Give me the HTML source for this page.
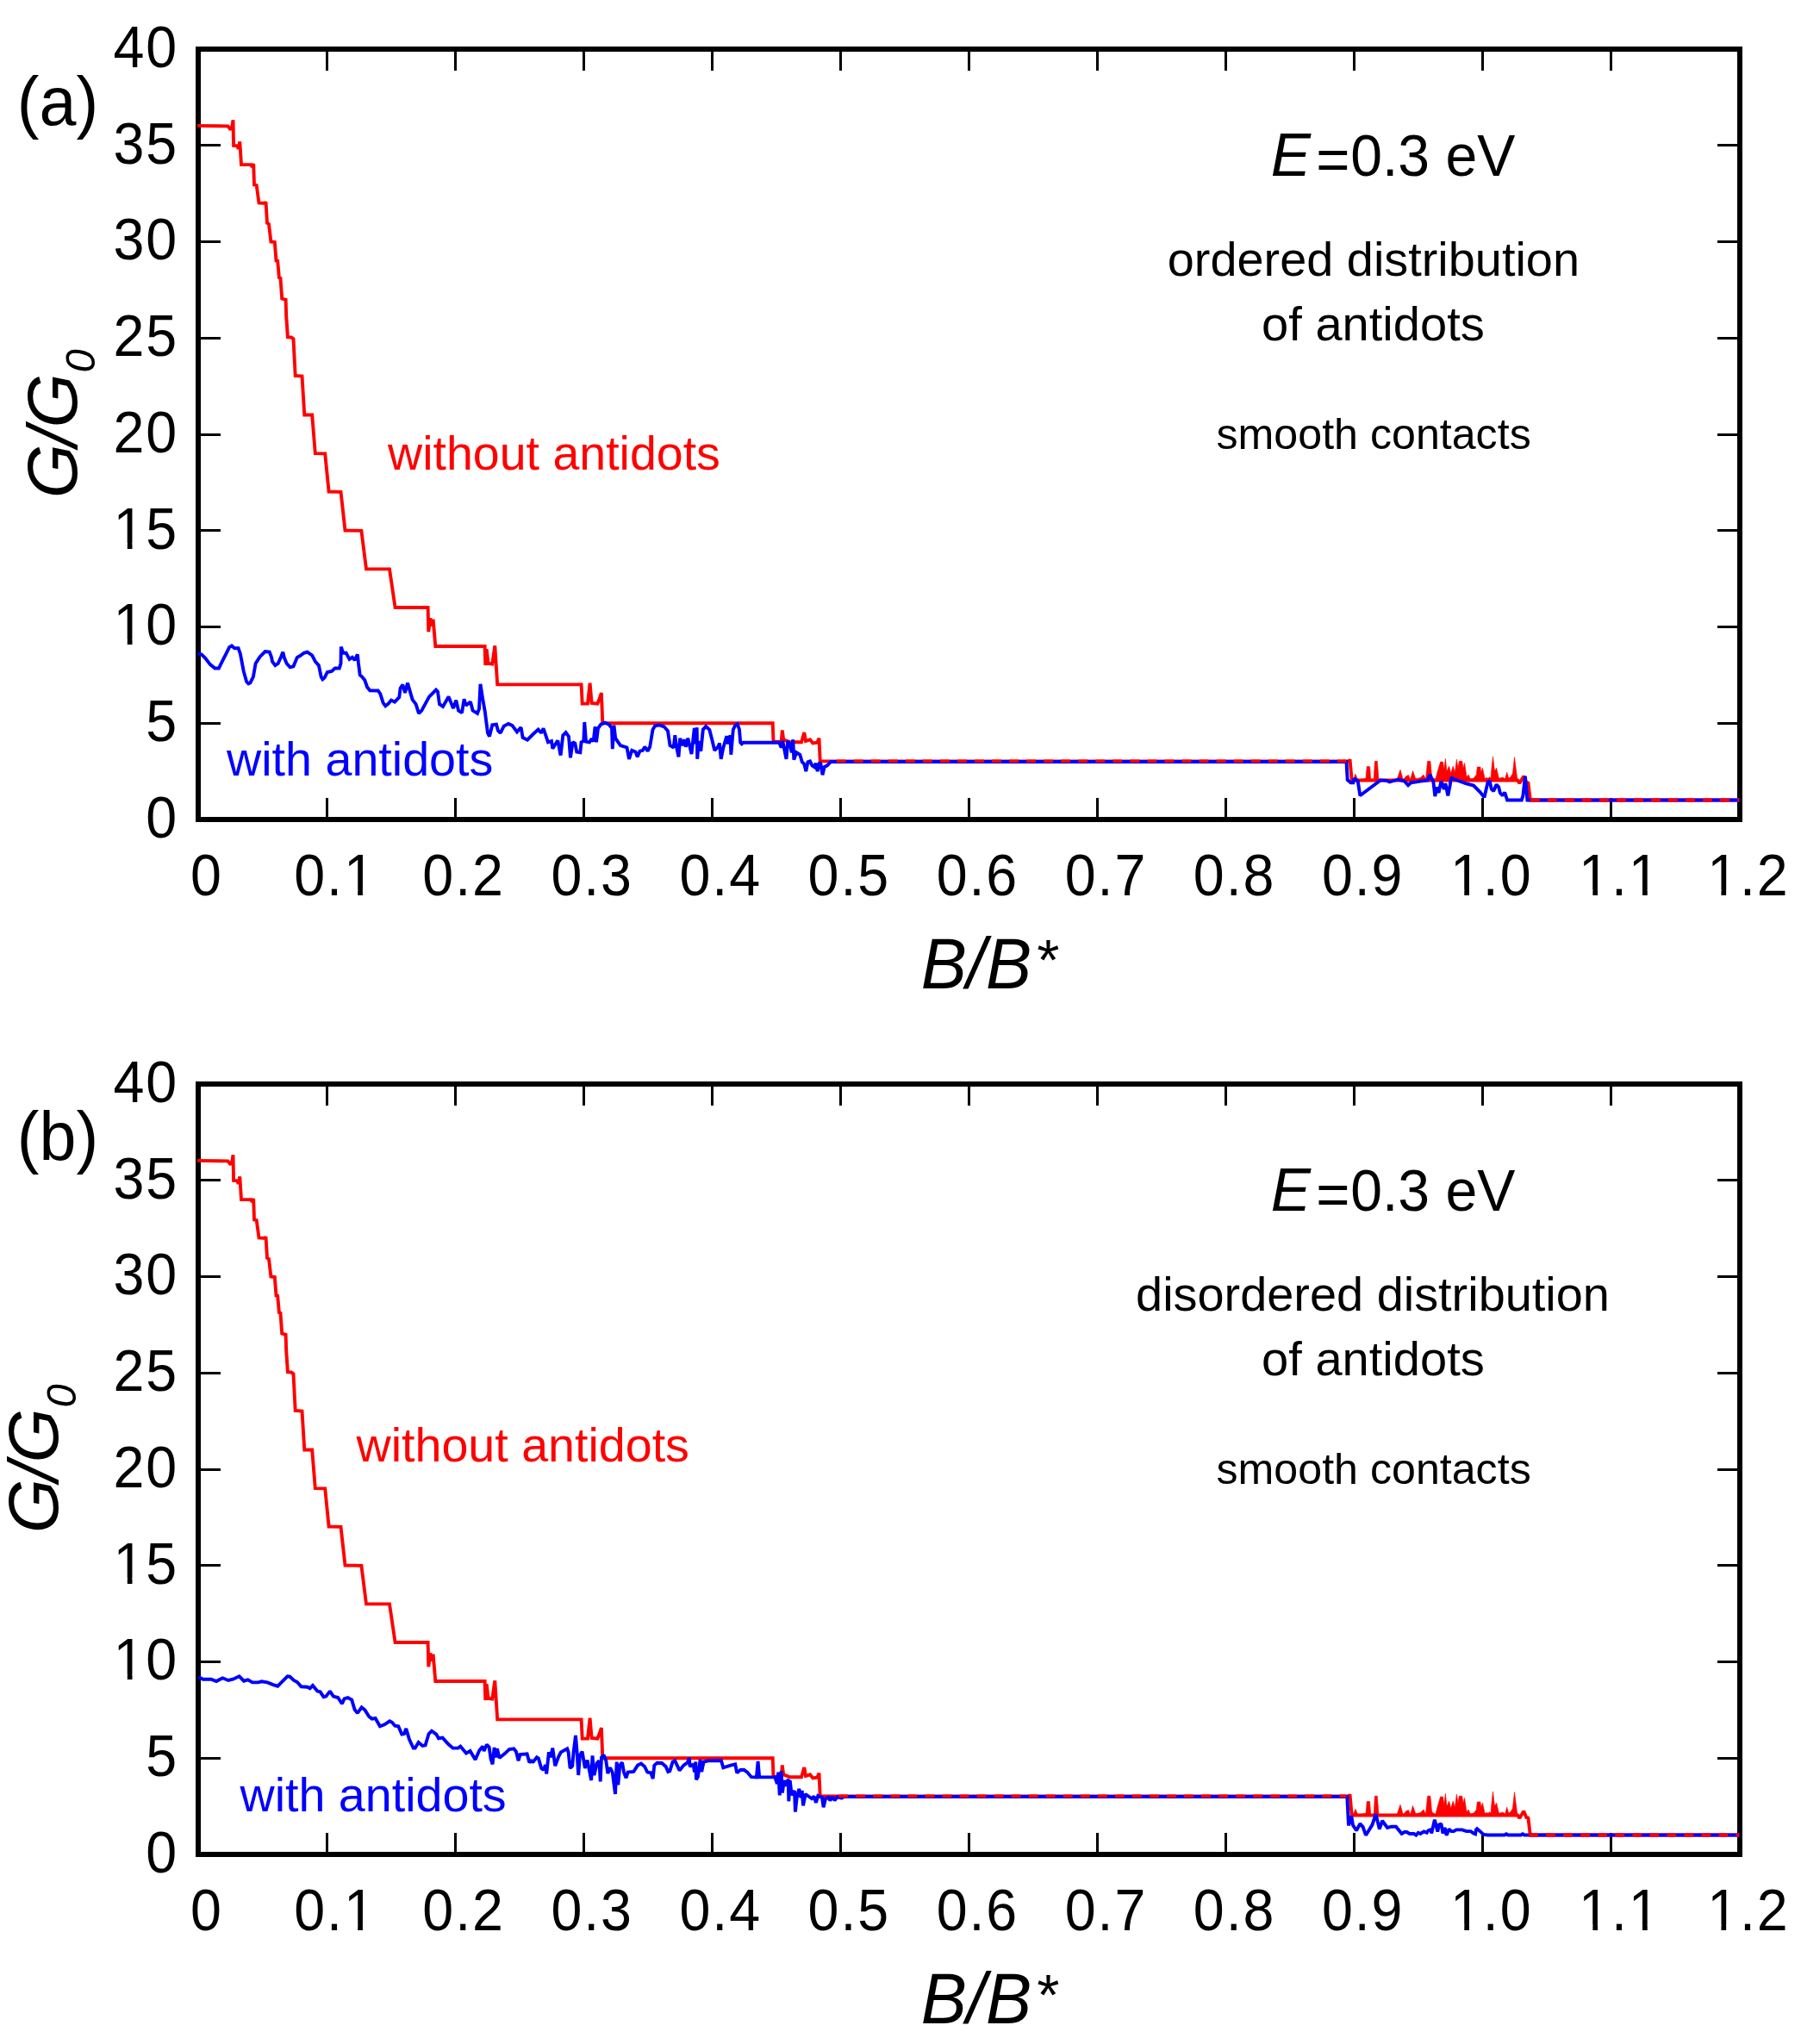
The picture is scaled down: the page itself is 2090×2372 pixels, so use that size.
<!DOCTYPE html>
<html><head><meta charset="utf-8"><title>G/G0 vs B/B*</title>
<style>
html,body{margin:0;padding:0;background:#fff;}
svg{display:block;}
text{font-family:'Liberation Sans', Arial, Helvetica, sans-serif;}
</style></head><body>
<svg width="2090" height="2372" viewBox="0 0 2090 2372">
<rect width="2090" height="2372" fill="#fff"/>
<g id="panel-a">
<path d="M379.1 57.0v25.0M379.1 951.0v-25.0M528.2 57.0v25.0M528.2 951.0v-25.0M677.2 57.0v25.0M677.2 951.0v-25.0M826.3 57.0v25.0M826.3 951.0v-25.0M975.4 57.0v25.0M975.4 951.0v-25.0M1124.5 57.0v25.0M1124.5 951.0v-25.0M1273.6 57.0v25.0M1273.6 951.0v-25.0M1422.7 57.0v25.0M1422.7 951.0v-25.0M1571.8 57.0v25.0M1571.8 951.0v-25.0M1720.8 57.0v25.0M1720.8 951.0v-25.0M1869.9 57.0v25.0M1869.9 951.0v-25.0M230.0 839.2h25.5M2019.0 839.2h-26.0M230.0 727.5h25.5M2019.0 727.5h-26.0M230.0 615.8h25.5M2019.0 615.8h-26.0M230.0 504.0h25.5M2019.0 504.0h-26.0M230.0 392.2h25.5M2019.0 392.2h-26.0M230.0 280.5h25.5M2019.0 280.5h-26.0M230.0 168.8h25.5M2019.0 168.8h-26.0" fill="none" stroke="#000" stroke-width="3.0" shape-rendering="crispEdges"/>
<rect x="230.0" y="57.0" width="1789.0" height="894.0" fill="none" stroke="#000" stroke-width="6.0" shape-rendering="crispEdges"/>
<polygon points="1568.7,907.1 1571.6,902.0 1572.9,898.3 1575.8,905.0 1585.0,903.3 1586.2,889.6 1589.6,889.6 1590.8,905.0 1594.2,905.0 1595.4,883.3 1598.3,883.3 1600.0,905.0 1620.8,905.4 1625.0,893.3 1628.3,905.0 1631.6,900.8 1634.5,899.5 1636.6,905.0 1639.5,894.6 1642.9,904.1 1648.3,902.5 1652.0,899.1 1654.5,904.1 1656.6,883.3 1659.9,883.3 1661.6,901.6 1665.8,905.0 1668.3,895.0 1671.6,884.1 1674.5,884.1 1675.8,893.0 1677.4,880.4 1679.0,895.0 1681.6,889.1 1683.7,897.5 1686.2,889.1 1688.3,896.5 1690.4,881.2 1692.0,891.6 1693.3,883.3 1696.7,883.3 1698.0,891.6 1699.6,885.4 1702.0,901.6 1704.2,899.1 1706.2,904.1 1710.0,903.3 1713.3,899.1 1714.3,890.0 1717.9,890.0 1718.7,896.6 1720.4,891.2 1723.3,904.1 1725.4,902.0 1726.6,904.1 1728.3,901.6 1730.0,903.3 1730.8,893.3 1732.5,877.9 1734.5,895.0 1736.6,891.2 1739.5,903.3 1744.1,902.0 1746.6,904.1 1748.7,896.2 1750.8,903.3 1753.3,901.2 1755.4,897.5 1757.5,878.7 1760.0,898.3 1761.2,907.1" fill="#ff0000" stroke="#ff0000" stroke-width="0.6" stroke-linejoin="miter"/>
<polyline points="229.1,145.9 264.4,146.4 267.8,150.5 269.5,146.0 270.5,139.4 271.1,168.9 275.5,169.4 276.6,172.8 278.3,164.4 280.0,191.1 291.1,191.1 292.7,193.9 294.2,190.0 295.0,214.4 297.7,215.0 300.5,235.5 307.7,236.0 308.5,234.0 310.0,258.9 312.0,260.0 314.4,280.5 318.8,281.0 320.5,302.5 322.2,302.8 323.9,322.2 325.5,322.8 327.2,346.6 331.6,347.8 332.2,366.6 333.9,391.1 338.0,391.5 340.5,393.3 342.7,436.0 350.5,436.6 353.3,481.5 362.2,481.5 365.8,526.1 377.2,526.4 381.6,570.5 395.5,570.8 400.5,615.5 419.4,615.8 425.0,660.4 452.0,660.4 458.6,705.0 496.6,705.0 497.3,733.3 499.3,717.3 500.6,726.6 502.6,718.6 505.3,750.0 562.6,750.0 563.3,772.0 564.6,753.3 566.6,770.0 571.3,770.6 574.3,749.3 577.2,794.4 674.6,794.4 675.7,816.6 682.0,816.6 684.6,792.6 686.6,816.0 693.3,816.6 696.0,810.0 697.9,804.0 699.3,839.3 896.7,839.2 897.5,860.8 906.7,860.8 907.8,847.5 909.2,858.3 916.7,861.3 930.0,861.3 933.3,850.0 935.0,860.0 940.0,858.3 943.3,862.5 948.3,861.7 950.5,856.7 951.7,883.4 1565.8,883.4 1566.5,881.2 1568.7,905.4 1761.2,905.4 1763.3,909.1 1768.3,900.8 1771.6,909.1 1773.3,907.5 1775.8,928.5 2019.0,928.5" fill="none" stroke="#ff0000" stroke-width="3.9" stroke-linejoin="miter" stroke-miterlimit="1.6"/>
<polyline points="229.4,758.3 233.9,759.4 238.3,763.9 243.9,771.1 249.4,775.5 253.9,775.5 258.3,766.6 262.8,757.8 266.1,751.1 268.9,749.4 272.2,752.2 276.6,752.2 278.9,758.9 282.7,778.9 286.1,791.1 288.3,793.3 290.5,792.2 293.9,785.5 296.6,770.0 301.6,762.2 307.7,756.1 312.7,756.6 314.9,762.2 316.1,767.8 319.4,772.2 322.7,770.0 326.1,762.2 328.3,756.6 329.9,763.3 332.7,770.0 336.6,774.4 340.5,773.3 344.9,762.8 348.3,761.1 352.7,757.8 356.6,756.6 362.2,760.5 366.0,767.8 369.9,772.2 372.7,785.5 374.4,788.3 376.6,786.6 379.9,780.0 384.9,778.9 388.8,775.5 393.8,775.5 395.5,770.0 395.8,750.5 398.2,757.8 401.6,757.8 405.5,765.0 408.8,762.8 411.6,766.1 414.9,759.4 416.0,770.0 417.7,783.3 420.0,785.3 423.3,789.3 426.0,797.2 429.3,801.3 438.7,801.5 441.3,805.2 444.7,815.9 447.3,819.2 450.7,816.6 454.0,812.6 458.0,814.6 463.3,809.2 464.6,798.6 467.3,794.6 470.0,803.9 473.0,792.6 478.6,811.9 482.6,817.2 486.0,827.9 489.3,824.6 498.0,808.6 506.0,800.6 508.0,802.6 510.0,817.2 514.0,819.9 520.6,808.6 526.0,821.9 529.3,812.6 532.0,824.6 536.0,827.2 538.6,811.2 540.6,818.6 546.0,814.6 548.6,824.6 554.0,827.9 556.0,822.6 557.5,793.9 560.0,810.0 562.7,825.3 566.0,850.6 568.0,854.6 571.3,841.3 576.0,840.6 578.0,847.9 580.7,850.6 584.7,842.6 590.0,840.0 594.6,842.0 600.0,849.3 604.6,844.0 606.6,856.0 612.0,858.6 618.6,852.0 624.6,846.6 628.0,850.6 630.6,845.3 636.0,861.3 640.0,860.0 641.3,868.6 647.3,859.3 650.6,876.6 653.3,853.3 656.6,850.0 660.0,854.6 662.0,879.3 664.6,861.3 667.3,862.6 669.3,872.6 673.3,873.3 674.6,861.3 677.3,860.0 678.3,838.0 680.0,860.6 684.0,861.3 686.6,857.3 688.6,860.6 690.6,843.3 692.0,861.3 694.0,845.3 697.3,840.6 702.0,838.6 706.7,840.8 710.0,845.0 710.8,869.2 712.5,841.7 714.2,856.7 720.0,865.0 727.5,867.5 730.0,880.8 733.3,870.8 737.5,872.5 739.7,878.3 742.5,871.7 745.8,870.8 748.3,866.7 751.7,871.7 754.2,866.7 757.5,846.7 760.0,842.5 765.0,841.3 770.8,843.3 775.0,848.3 777.5,865.0 781.7,867.5 783.3,853.3 785.0,866.7 787.5,878.3 789.2,856.7 791.7,865.0 794.2,858.3 795.8,866.7 798.3,856.7 802.5,875.0 805.8,845.0 807.0,863.3 808.7,844.2 809.2,880.8 810.8,860.0 813.3,871.7 815.8,846.7 819.2,843.0 823.3,846.7 826.7,860.0 829.2,870.8 833.3,866.7 835.0,862.5 836.7,880.8 839.2,868.3 843.3,854.2 845.0,863.3 847.5,853.3 848.3,875.8 850.8,846.7 853.3,841.7 855.8,840.3 858.0,846.7 859.2,861.7 860.8,863.3 862.5,861.7 904.2,861.7 906.7,867.5 908.3,860.0 910.3,870.0 912.5,880.8 914.2,860.0 916.7,863.3 918.7,873.3 920.3,858.3 921.3,881.7 924.2,873.3 928.3,875.8 930.8,884.2 933.3,886.7 935.3,895.0 937.5,884.2 940.0,883.3 942.5,888.3 945.0,890.0 946.7,885.8 948.7,895.0 950.8,885.0 952.5,886.7 954.5,899.2 956.7,890.0 960.0,888.3 964.2,884.0 1562.5,884.0 1563.7,905.0 1567.5,908.3 1570.4,908.3 1571.5,903.3 1575.8,906.6 1578.3,923.3 1602.0,905.4 1609.1,905.8 1612.5,907.5 1622.5,904.5 1630.0,906.6 1634.1,911.2 1637.4,908.3 1648.3,906.6 1656.6,905.4 1659.5,899.1 1661.6,904.1 1663.3,906.6 1665.3,924.1 1667.4,913.3 1669.5,920.0 1672.4,906.6 1675.8,915.8 1677.4,909.1 1680.3,923.3 1682.8,910.8 1683.9,902.5 1688.3,904.5 1700.8,909.1 1710.0,911.6 1717.5,919.1 1722.5,925.4 1726.6,907.5 1728.7,906.2 1730.8,915.8 1733.3,917.9 1736.6,910.4 1739.1,913.3 1740.8,920.0 1743.7,923.3 1746.2,919.5 1749.1,928.5 1765.8,928.5 1767.4,923.3 1769.9,900.8 1772.4,928.5 2019.0,928.5" fill="none" stroke="#0000ff" stroke-width="3.9" stroke-linejoin="miter" stroke-miterlimit="1.6"/>
<path d="M970.8 883.3H1562.5" fill="none" stroke="#ff0000" stroke-width="3.4" stroke-dasharray="10.8 9.24"/>
<path d="M1775.8 928.5H2018" fill="none" stroke="#ff0000" stroke-width="3.9" stroke-dasharray="10.8 9.24"/>
<text transform="translate(169.37,971.8) scale(0.95,1)" font-size="68" letter-spacing="2.0">0</text>
<text transform="translate(169.37,860.0) scale(0.95,1)" font-size="68" letter-spacing="2.0">5</text>
<text transform="translate(131.55,748.3) scale(0.95,1)" font-size="68" letter-spacing="2.0">10</text><rect x="135.15" y="741.90" width="12.65" height="7.2" fill="#fff"/><rect x="153.50" y="741.90" width="12.45" height="7.2" fill="#fff"/>
<text transform="translate(131.55,636.5) scale(0.95,1)" font-size="68" letter-spacing="2.0">15</text><rect x="135.15" y="630.15" width="12.65" height="7.2" fill="#fff"/><rect x="153.50" y="630.15" width="12.45" height="7.2" fill="#fff"/>
<text transform="translate(131.55,524.8) scale(0.95,1)" font-size="68" letter-spacing="2.0">20</text>
<text transform="translate(131.55,413.1) scale(0.95,1)" font-size="68" letter-spacing="2.0">25</text>
<text transform="translate(131.55,301.3) scale(0.95,1)" font-size="68" letter-spacing="2.0">30</text>
<text transform="translate(131.55,189.6) scale(0.95,1)" font-size="68" letter-spacing="2.0">35</text>
<text transform="translate(131.55,77.8) scale(0.95,1)" font-size="68" letter-spacing="2.0">40</text>
<text transform="translate(221.04,1039.0) scale(0.95,1)" font-size="68" letter-spacing="2.0">0</text>
<text transform="translate(341.28,1039.0) scale(0.95,1)" font-size="68" letter-spacing="2.0">0.1</text><rect x="402.56" y="1032.60" width="12.65" height="7.2" fill="#fff"/><rect x="420.91" y="1032.60" width="12.45" height="7.2" fill="#fff"/>
<text transform="translate(490.37,1039.0) scale(0.95,1)" font-size="68" letter-spacing="2.0">0.2</text>
<text transform="translate(639.45,1039.0) scale(0.95,1)" font-size="68" letter-spacing="2.0">0.3</text>
<text transform="translate(788.53,1039.0) scale(0.95,1)" font-size="68" letter-spacing="2.0">0.4</text>
<text transform="translate(937.62,1039.0) scale(0.95,1)" font-size="68" letter-spacing="2.0">0.5</text>
<text transform="translate(1086.70,1039.0) scale(0.95,1)" font-size="68" letter-spacing="2.0">0.6</text>
<text transform="translate(1235.78,1039.0) scale(0.95,1)" font-size="68" letter-spacing="2.0">0.7</text>
<text transform="translate(1384.87,1039.0) scale(0.95,1)" font-size="68" letter-spacing="2.0">0.8</text>
<text transform="translate(1533.95,1039.0) scale(0.95,1)" font-size="68" letter-spacing="2.0">0.9</text>
<text transform="translate(1683.03,1039.0) scale(0.95,1)" font-size="68" letter-spacing="2.0">1.0</text><rect x="1686.63" y="1032.60" width="12.65" height="7.2" fill="#fff"/><rect x="1704.99" y="1032.60" width="12.45" height="7.2" fill="#fff"/>
<text transform="translate(1832.12,1039.0) scale(0.95,1)" font-size="68" letter-spacing="2.0">1.1</text><rect x="1835.72" y="1032.60" width="12.65" height="7.2" fill="#fff"/><rect x="1854.07" y="1032.60" width="12.45" height="7.2" fill="#fff"/><rect x="1893.39" y="1032.60" width="12.65" height="7.2" fill="#fff"/><rect x="1911.75" y="1032.60" width="12.45" height="7.2" fill="#fff"/>
<text transform="translate(1981.20,1039.0) scale(0.95,1)" font-size="68" letter-spacing="2.0">1.2</text><rect x="1984.80" y="1032.60" width="12.65" height="7.2" fill="#fff"/><rect x="2003.15" y="1032.60" width="12.45" height="7.2" fill="#fff"/>
<text x="19.82" y="145.2" font-size="80" textLength="94.38" lengthAdjust="spacingAndGlyphs">(a)</text>
<text x="1474.79" y="203.9" font-size="71" font-style="italic" textLength="46.26" lengthAdjust="spacingAndGlyphs">E</text>
<text x="1527.35" y="209.4" font-size="68" textLength="39.16" lengthAdjust="spacingAndGlyphs">=</text>
<text x="1567.13" y="203.9" font-size="68" textLength="191.28" lengthAdjust="spacingAndGlyphs">0.3 eV</text>
<text x="1354.81" y="320" font-size="56" textLength="478.15" lengthAdjust="spacingAndGlyphs">ordered distribution</text>
<text x="1464.12" y="395" font-size="56" textLength="258.65" lengthAdjust="spacingAndGlyphs">of antidots</text>
<text x="1411.52" y="520.7" font-size="50" textLength="365.20" lengthAdjust="spacingAndGlyphs">smooth contacts</text>
<text x="450.08" y="544.6" font-size="56" fill="#ff0000" textLength="385.80" lengthAdjust="spacingAndGlyphs">without antidots</text>
<text x="263.08" y="900.0" font-size="56" fill="#0000ff" textLength="309.24" lengthAdjust="spacingAndGlyphs">with antidots</text>
<text x="1068.66" y="1147.0" font-size="83" font-style="italic" textLength="128.51" lengthAdjust="spacingAndGlyphs">B/B</text>
<text x="1200.45" y="1137.2" font-size="67" font-style="italic" textLength="26.11" lengthAdjust="spacingAndGlyphs">*</text>
<text transform="translate(89.3,578.2) rotate(-90)" font-size="81" font-style="italic" letter-spacing="-0.7">G<tspan dx="-2.4">/G</tspan><tspan font-size="49" dy="20.5" dx="1.6">0</tspan></text>
</g>
<g id="panel-b" transform="translate(0,1201)">
<path d="M379.1 57.0v25.0M379.1 951.0v-25.0M528.2 57.0v25.0M528.2 951.0v-25.0M677.2 57.0v25.0M677.2 951.0v-25.0M826.3 57.0v25.0M826.3 951.0v-25.0M975.4 57.0v25.0M975.4 951.0v-25.0M1124.5 57.0v25.0M1124.5 951.0v-25.0M1273.6 57.0v25.0M1273.6 951.0v-25.0M1422.7 57.0v25.0M1422.7 951.0v-25.0M1571.8 57.0v25.0M1571.8 951.0v-25.0M1720.8 57.0v25.0M1720.8 951.0v-25.0M1869.9 57.0v25.0M1869.9 951.0v-25.0M230.0 839.2h25.5M2019.0 839.2h-26.0M230.0 727.5h25.5M2019.0 727.5h-26.0M230.0 615.8h25.5M2019.0 615.8h-26.0M230.0 504.0h25.5M2019.0 504.0h-26.0M230.0 392.2h25.5M2019.0 392.2h-26.0M230.0 280.5h25.5M2019.0 280.5h-26.0M230.0 168.8h25.5M2019.0 168.8h-26.0" fill="none" stroke="#000" stroke-width="3.0" shape-rendering="crispEdges"/>
<rect x="230.0" y="57.0" width="1789.0" height="894.0" fill="none" stroke="#000" stroke-width="6.0" shape-rendering="crispEdges"/>
<polygon points="1568.7,907.1 1571.6,902.0 1572.9,898.3 1575.8,905.0 1585.0,903.3 1586.2,889.6 1589.6,889.6 1590.8,905.0 1594.2,905.0 1595.4,883.3 1598.3,883.3 1600.0,905.0 1620.8,905.4 1625.0,893.3 1628.3,905.0 1631.6,900.8 1634.5,899.5 1636.6,905.0 1639.5,894.6 1642.9,904.1 1648.3,902.5 1652.0,899.1 1654.5,904.1 1656.6,883.3 1659.9,883.3 1661.6,901.6 1665.8,905.0 1668.3,895.0 1671.6,884.1 1674.5,884.1 1675.8,893.0 1677.4,880.4 1679.0,895.0 1681.6,889.1 1683.7,897.5 1686.2,889.1 1688.3,896.5 1690.4,881.2 1692.0,891.6 1693.3,883.3 1696.7,883.3 1698.0,891.6 1699.6,885.4 1702.0,901.6 1704.2,899.1 1706.2,904.1 1710.0,903.3 1713.3,899.1 1714.3,890.0 1717.9,890.0 1718.7,896.6 1720.4,891.2 1723.3,904.1 1725.4,902.0 1726.6,904.1 1728.3,901.6 1730.0,903.3 1730.8,893.3 1732.5,877.9 1734.5,895.0 1736.6,891.2 1739.5,903.3 1744.1,902.0 1746.6,904.1 1748.7,896.2 1750.8,903.3 1753.3,901.2 1755.4,897.5 1757.5,878.7 1760.0,898.3 1761.2,907.1" fill="#ff0000" stroke="#ff0000" stroke-width="0.6" stroke-linejoin="miter"/>
<polyline points="229.1,145.9 264.4,146.4 267.8,150.5 269.5,146.0 270.5,139.4 271.1,168.9 275.5,169.4 276.6,172.8 278.3,164.4 280.0,191.1 291.1,191.1 292.7,193.9 294.2,190.0 295.0,214.4 297.7,215.0 300.5,235.5 307.7,236.0 308.5,234.0 310.0,258.9 312.0,260.0 314.4,280.5 318.8,281.0 320.5,302.5 322.2,302.8 323.9,322.2 325.5,322.8 327.2,346.6 331.6,347.8 332.2,366.6 333.9,391.1 338.0,391.5 340.5,393.3 342.7,436.0 350.5,436.6 353.3,481.5 362.2,481.5 365.8,526.1 377.2,526.4 381.6,570.5 395.5,570.8 400.5,615.5 419.4,615.8 425.0,660.4 452.0,660.4 458.6,705.0 496.6,705.0 497.3,733.3 499.3,717.3 500.6,726.6 502.6,718.6 505.3,750.0 562.6,750.0 563.3,772.0 564.6,753.3 566.6,770.0 571.3,770.6 574.3,749.3 577.2,794.4 674.6,794.4 675.7,816.6 682.0,816.6 684.6,792.6 686.6,816.0 693.3,816.6 696.0,810.0 697.9,804.0 699.3,839.3 896.7,839.2 897.5,860.8 906.7,860.8 907.8,847.5 909.2,858.3 916.7,861.3 930.0,861.3 933.3,850.0 935.0,860.0 940.0,858.3 943.3,862.5 948.3,861.7 950.5,856.7 951.7,883.4 1565.8,883.4 1566.5,881.2 1568.7,905.4 1761.2,905.4 1763.3,909.1 1768.3,900.8 1771.6,909.1 1773.3,907.5 1775.8,928.5 2019.0,928.5" fill="none" stroke="#ff0000" stroke-width="3.9" stroke-linejoin="miter" stroke-miterlimit="1.6"/>
<polyline points="230.1,745.0 235.7,747.7 245.0,747.7 251.0,750.1 258.3,746.3 265.0,749.0 270.3,747.7 277.6,744.3 283.0,749.7 287.6,748.3 293.0,751.4 299.6,751.4 303.6,750.3 310.3,751.4 317.0,754.1 322.3,755.7 328.3,749.7 333.6,744.3 336.3,744.7 340.9,749.0 344.9,751.0 349.6,756.3 356.9,756.7 359.6,758.3 362.9,755.0 368.3,761.6 371.6,762.3 375.6,768.3 378.3,767.6 382.9,761.6 386.9,767.6 392.2,769.0 396.9,776.3 399.6,770.3 403.6,769.0 408.2,771.6 411.6,783.0 414.9,787.0 419.6,780.3 423.6,783.6 428.2,791.0 431.6,793.6 435.6,793.0 440.9,802.3 446.2,800.3 452.2,796.3 455.0,797.7 458.3,801.7 462.3,802.3 466.3,811.6 469.0,811.0 471.3,805.0 475.0,817.6 479.7,827.6 481.7,827.6 485.7,821.0 490.3,825.0 493.6,824.3 497.6,811.0 501.0,807.7 506.3,811.6 509.0,816.3 513.6,815.6 520.3,823.0 525.6,827.6 531.6,827.6 534.3,825.6 541.0,833.6 545.6,831.0 551.6,841.0 556.3,830.3 560.3,825.6 561.6,831.0 564.9,823.6 567.6,826.3 569.6,840.3 571.6,846.3 573.6,827.0 575.6,838.3 576.9,828.3 579.6,839.0 586.3,833.6 590.9,829.0 596.3,828.3 598.9,831.6 601.6,842.3 603.6,835.0 611.6,834.3 614.3,844.3 616.9,841.6 618.2,844.3 622.9,838.3 624.9,839.6 628.2,851.0 630.9,853.0 632.9,847.0 634.2,857.6 636.9,832.3 638.9,838.3 641.3,827.6 644.2,848.3 648.2,837.6 650.9,832.3 658.2,828.3 659.6,832.3 661.6,851.0 664.2,848.3 665.6,832.3 668.0,813.0 669.6,832.3 671.2,859.0 672.9,836.3 675.6,831.6 678.9,851.0 681.6,841.6 686.2,865.0 687.5,836.3 689.5,859.0 692.7,845.0 695.3,842.3 696.7,866.3 698.0,838.3 700.7,835.6 703.3,842.3 705.3,857.0 708.0,850.3 710.7,855.6 714.0,881.0 715.7,843.6 717.3,870.3 719.3,847.6 722.0,844.3 724.0,855.6 726.6,862.3 728.6,855.6 735.3,855.0 740.0,847.6 744.0,845.6 748.0,849.0 751.3,855.6 755.3,856.3 757.7,863.0 759.3,847.6 762.6,844.7 768.0,845.0 772.6,849.0 775.3,855.0 777.3,854.3 780.6,843.6 783.3,842.3 788.6,853.6 793.3,847.6 797.9,844.3 799.9,839.0 800.6,849.0 804.6,846.3 805.9,855.6 807.3,843.6 807.9,864.3 809.9,861.0 812.6,841.0 814.2,855.0 816.6,843.6 821.9,842.3 835.3,842.3 836.6,841.0 839.3,850.3 847.9,847.6 853.2,846.3 855.2,856.3 859.2,853.0 863.2,852.7 867.2,855.6 871.9,861.2 877.9,861.4 879.6,843.0 881.2,861.4 899.2,861.4 901.9,869.0 903.2,855.6 904.8,882.3 906.6,854.3 907.9,879.6 909.9,865.0 911.9,871.6 914.7,863.6 915.3,889.3 916.7,865.0 918.7,882.3 922.0,877.0 922.9,901.6 924.7,885.0 927.3,875.0 929.3,885.0 930.7,877.0 932.0,894.3 934.7,881.0 942.0,886.3 944.6,883.6 946.9,891.0 949.3,883.0 954.0,885.0 955.6,896.3 958.0,886.3 961.3,885.0 963.3,888.3 966.0,884.3 968.6,888.3 972.0,884.3 976.6,885.6 979.3,884.0 1563.3,884.0 1565.0,917.5 1568.3,906.6 1570.0,917.0 1574.1,923.3 1578.3,915.4 1581.6,919.1 1585.0,928.7 1592.5,916.6 1596.6,904.1 1600.8,921.6 1604.1,912.0 1610.0,920.0 1615.0,918.7 1620.0,918.7 1626.6,927.0 1629.9,925.0 1632.4,925.0 1635.8,927.0 1640.8,927.0 1643.3,928.7 1645.8,925.8 1648.3,927.0 1652.4,924.5 1655.8,925.8 1657.4,923.3 1660.8,922.0 1661.2,926.6 1664.9,910.8 1668.3,924.5 1669.9,916.6 1672.4,915.4 1674.5,926.6 1676.6,920.0 1678.7,928.7 1681.6,921.6 1684.2,924.1 1687.1,924.1 1690.0,922.4 1696.7,922.4 1701.7,924.1 1706.7,924.1 1710.0,926.6 1712.1,927.4 1712.9,922.4 1714.1,921.2 1717.5,924.1 1721.6,927.9 1726.6,928.5 1746.0,928.5 1748.0,927.3 1750.0,928.5 1765.0,928.5 1767.0,927.3 1769.0,928.5 2019.0,928.5" fill="none" stroke="#0000ff" stroke-width="3.9" stroke-linejoin="miter" stroke-miterlimit="1.6"/>
<path d="M973.3 883.3H1562.5" fill="none" stroke="#ff0000" stroke-width="3.4" stroke-dasharray="10.8 9.24"/>
<path d="M1774.1 928.5H2018" fill="none" stroke="#ff0000" stroke-width="3.9" stroke-dasharray="10.8 9.24"/>
<text transform="translate(169.37,971.8) scale(0.95,1)" font-size="68" letter-spacing="2.0">0</text>
<text transform="translate(169.37,860.0) scale(0.95,1)" font-size="68" letter-spacing="2.0">5</text>
<text transform="translate(131.55,748.3) scale(0.95,1)" font-size="68" letter-spacing="2.0">10</text><rect x="135.15" y="741.90" width="12.65" height="7.2" fill="#fff"/><rect x="153.50" y="741.90" width="12.45" height="7.2" fill="#fff"/>
<text transform="translate(131.55,636.5) scale(0.95,1)" font-size="68" letter-spacing="2.0">15</text><rect x="135.15" y="630.15" width="12.65" height="7.2" fill="#fff"/><rect x="153.50" y="630.15" width="12.45" height="7.2" fill="#fff"/>
<text transform="translate(131.55,524.8) scale(0.95,1)" font-size="68" letter-spacing="2.0">20</text>
<text transform="translate(131.55,413.1) scale(0.95,1)" font-size="68" letter-spacing="2.0">25</text>
<text transform="translate(131.55,301.3) scale(0.95,1)" font-size="68" letter-spacing="2.0">30</text>
<text transform="translate(131.55,189.6) scale(0.95,1)" font-size="68" letter-spacing="2.0">35</text>
<text transform="translate(131.55,77.8) scale(0.95,1)" font-size="68" letter-spacing="2.0">40</text>
<text transform="translate(221.04,1039.0) scale(0.95,1)" font-size="68" letter-spacing="2.0">0</text>
<text transform="translate(341.28,1039.0) scale(0.95,1)" font-size="68" letter-spacing="2.0">0.1</text><rect x="402.56" y="1032.60" width="12.65" height="7.2" fill="#fff"/><rect x="420.91" y="1032.60" width="12.45" height="7.2" fill="#fff"/>
<text transform="translate(490.37,1039.0) scale(0.95,1)" font-size="68" letter-spacing="2.0">0.2</text>
<text transform="translate(639.45,1039.0) scale(0.95,1)" font-size="68" letter-spacing="2.0">0.3</text>
<text transform="translate(788.53,1039.0) scale(0.95,1)" font-size="68" letter-spacing="2.0">0.4</text>
<text transform="translate(937.62,1039.0) scale(0.95,1)" font-size="68" letter-spacing="2.0">0.5</text>
<text transform="translate(1086.70,1039.0) scale(0.95,1)" font-size="68" letter-spacing="2.0">0.6</text>
<text transform="translate(1235.78,1039.0) scale(0.95,1)" font-size="68" letter-spacing="2.0">0.7</text>
<text transform="translate(1384.87,1039.0) scale(0.95,1)" font-size="68" letter-spacing="2.0">0.8</text>
<text transform="translate(1533.95,1039.0) scale(0.95,1)" font-size="68" letter-spacing="2.0">0.9</text>
<text transform="translate(1683.03,1039.0) scale(0.95,1)" font-size="68" letter-spacing="2.0">1.0</text><rect x="1686.63" y="1032.60" width="12.65" height="7.2" fill="#fff"/><rect x="1704.99" y="1032.60" width="12.45" height="7.2" fill="#fff"/>
<text transform="translate(1832.12,1039.0) scale(0.95,1)" font-size="68" letter-spacing="2.0">1.1</text><rect x="1835.72" y="1032.60" width="12.65" height="7.2" fill="#fff"/><rect x="1854.07" y="1032.60" width="12.45" height="7.2" fill="#fff"/><rect x="1893.39" y="1032.60" width="12.65" height="7.2" fill="#fff"/><rect x="1911.75" y="1032.60" width="12.45" height="7.2" fill="#fff"/>
<text transform="translate(1981.20,1039.0) scale(0.95,1)" font-size="68" letter-spacing="2.0">1.2</text><rect x="1984.80" y="1032.60" width="12.65" height="7.2" fill="#fff"/><rect x="2003.15" y="1032.60" width="12.45" height="7.2" fill="#fff"/>
<text x="19.82" y="145.2" font-size="80" textLength="94.38" lengthAdjust="spacingAndGlyphs">(b)</text>
<text x="1474.79" y="203.9" font-size="71" font-style="italic" textLength="46.26" lengthAdjust="spacingAndGlyphs">E</text>
<text x="1527.35" y="209.4" font-size="68" textLength="39.16" lengthAdjust="spacingAndGlyphs">=</text>
<text x="1567.13" y="203.9" font-size="68" textLength="191.28" lengthAdjust="spacingAndGlyphs">0.3 eV</text>
<text x="1318.09" y="320" font-size="56" textLength="549.81" lengthAdjust="spacingAndGlyphs">disordered distribution</text>
<text x="1464.12" y="395" font-size="56" textLength="258.65" lengthAdjust="spacingAndGlyphs">of antidots</text>
<text x="1411.52" y="520.7" font-size="50" textLength="365.20" lengthAdjust="spacingAndGlyphs">smooth contacts</text>
<text x="413.57" y="494.8" font-size="56" fill="#ff0000" textLength="386.37" lengthAdjust="spacingAndGlyphs">without antidots</text>
<text x="278.48" y="900.9" font-size="56" fill="#0000ff" textLength="309.18" lengthAdjust="spacingAndGlyphs">with antidots</text>
<text x="1068.66" y="1147.0" font-size="83" font-style="italic" textLength="128.51" lengthAdjust="spacingAndGlyphs">B/B</text>
<text x="1200.45" y="1137.2" font-size="67" font-style="italic" textLength="26.11" lengthAdjust="spacingAndGlyphs">*</text>
<text transform="translate(67.0,578.2) rotate(-90)" font-size="81" font-style="italic" letter-spacing="-0.7">G<tspan dx="-2.4">/G</tspan><tspan font-size="49" dy="20.5" dx="1.6">0</tspan></text>
</g>
</svg>
</body></html>
